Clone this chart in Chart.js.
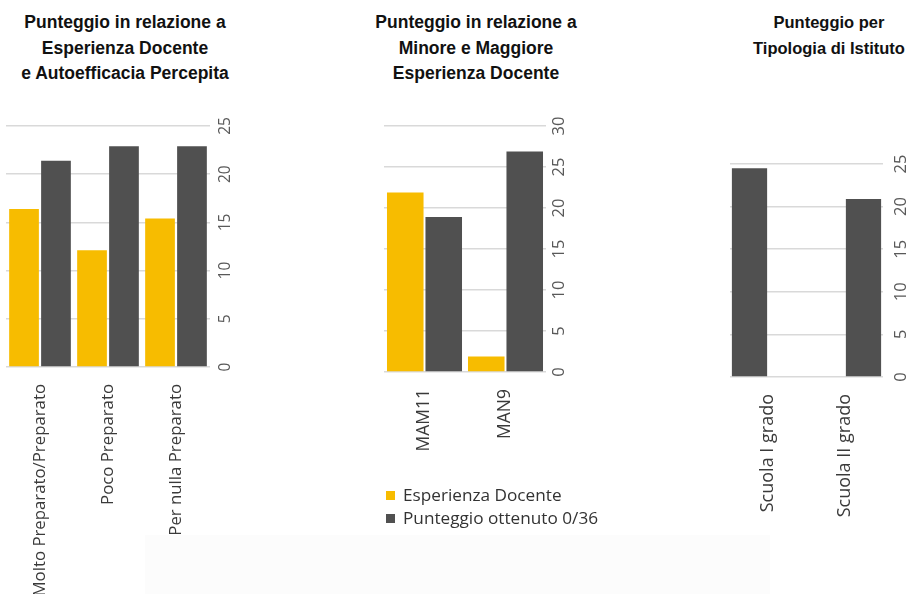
<!DOCTYPE html>
<html>
<head>
<meta charset="utf-8">
<script src="https://cdn.jsdelivr.net/npm/chart.js@4.4.0/dist/chart.umd.min.js"></script>
<style>
  body { margin: 0; background: #fff; width: 909px; height: 594px; overflow: hidden; position: relative; }
  .title { position: absolute; font-family: "Liberation Sans", Arial, sans-serif; font-weight: bold; font-size: 17.5px; line-height: 25.5px; color: #111; text-align: center; white-space: nowrap; }
  .box { position: absolute; }
  .shade { position: absolute; left: 145px; top: 535px; width: 625px; height: 59px; background: #fcfcfc; }
  #legend { position: absolute; left: 386px; top: 483px; font-family: "Open Sans", sans-serif; font-size: 17.2px; color: #333; line-height: 23px; }
  #legend span.sw { display: inline-block; width: 9px; height: 9px; margin-right: 8px; vertical-align: 1px; }
</style>
</head>
<body>
<div class="shade"></div>

<div class="title" style="left:5px;width:240px;top:10px">Punteggio in relazione a<br>Esperienza Docente<br>e Autoefficacia Percepita</div>
<div class="title" style="left:356px;width:240px;top:10px">Punteggio in relazione a<br>Minore e Maggiore<br>Esperienza Docente</div>
<div class="title" style="left:729px;width:200px;top:10px;font-size:16.5px">Punteggio per<br>Tipologia di Istituto</div>

<div class="box" style="left:0;top:110px;width:250px;height:484px"><canvas id="chart1"></canvas></div>
<div class="box" style="left:370px;top:110px;width:210px;height:484px"><canvas id="chart2"></canvas></div>
<div class="box" style="left:700px;top:110px;width:209px;height:484px"><canvas id="chart3"></canvas></div>
<div id="legend"></div>

<script>
const yellow = '#f7bc00';
const darkGray = '#505050';

// chart 1: Esperienza Docente e Autoefficacia Percepita
const prepLabels = ['Molto Preparato/Preparato', 'Poco Preparato', 'Per nulla Preparato'];
const prepEsperienza = [16.4, 12.1, 15.4];
const prepPunteggio = [21.4, 22.9, 22.9];

// chart 2: Minore e Maggiore Esperienza Docente
const espLabels = ['MAM11', 'MAN9'];
const espEsperienza = [21.9, 1.9];
const espPunteggio = [18.9, 26.9];

// chart 3: Tipologia di Istituto
const scuolaLabels = ['Scuola I grado', 'Scuola II grado'];
const scuolaPrimo = [24.5, 0];
const scuolaSecondo = [0, 20.9];

const seriesNames = ['Esperienza Docente', 'Punteggio ottenuto 0/36'];

const rotatedTicks = {
  id: 'rotatedTicks',
  afterDraw(chart, args, opts) {
    const y = chart.scales.y;
    const ctx = chart.ctx;
    ctx.save();
    ctx.font = opts.size + 'px "Open Sans", sans-serif';
    ctx.fillStyle = '#595959';
    ctx.textAlign = 'center';
    ctx.textBaseline = 'middle';
    y.ticks.forEach(t => {
      const py = y.getPixelForValue(t.value);
      ctx.save();
      ctx.translate(opts.x, py);
      ctx.rotate(-Math.PI / 2);
      ctx.fillText(t.label, 0, 0);
      ctx.restore();
    });
    ctx.restore();
  }
};

function makeChart(id, labels, datasets, cfg) {
  return new Chart(document.getElementById(id), {
    type: 'bar',
    data: { labels: labels, datasets: datasets },
    plugins: [rotatedTicks],
    options: {
      responsive: true,
      maintainAspectRatio: false,
      animation: false,
      layout: { padding: { left: cfg.left, top: cfg.top, right: 0, bottom: 0 } },
      datasets: { bar: { categoryPercentage: cfg.cat, barPercentage: cfg.bar } },
      plugins: {
        legend: { display: false },
        tooltip: { enabled: false },
        rotatedTicks: { x: cfg.tickX, size: cfg.tickSize }
      },
      scales: {
        x: {
          grid: { display: false },
          border: { display: false },
          ticks: {
            minRotation: 90, maxRotation: 90, padding: 9,
            color: '#3a3a3a',
            font: { family: '"Open Sans", sans-serif', size: cfg.labelSize }
          },
          afterFit(s) { s.height = cfg.xHeight; }
        },
        y: {
          position: 'right',
          min: 0, max: cfg.max,
          ticks: { stepSize: 5, display: false },
          grid: { color: '#d9d9d9', lineWidth: 1.5, drawTicks: false },
          border: { display: false },
          afterFit(s) { s.width = cfg.yWidth; }
        }
      }
    }
  });
}

makeChart('chart1', prepLabels, [
  { label: seriesNames[0], data: prepEsperienza, backgroundColor: yellow },
  { label: seriesNames[1], data: prepPunteggio, backgroundColor: darkGray }
], { left: 6, top: 16, max: 25, xHeight: 227, yWidth: 40, tickX: 226, tickSize: 15.5, labelSize: 16.8, cat: 0.94, bar: 0.93 });

const chart2 = makeChart('chart2', espLabels, [
  { label: seriesNames[0], data: espEsperienza, backgroundColor: yellow },
  { label: seriesNames[1], data: espPunteggio, backgroundColor: darkGray }
], { left: 14, top: 16, max: 30, xHeight: 222, yWidth: 34, tickX: 189, tickSize: 16.5, labelSize: 17.5, cat: 0.95, bar: 0.95 });

makeChart('chart3', scuolaLabels, [
  { label: scuolaLabels[0], data: scuolaPrimo, backgroundColor: darkGray },
  { label: scuolaLabels[1], data: scuolaSecondo, backgroundColor: darkGray }
], { left: 30, top: 54, max: 25, xHeight: 217, yWidth: 26, tickX: 201.5, tickSize: 16.5, labelSize: 18, cat: 0.98, bar: 0.94 });

// legend from chart 2 datasets
const legend = document.getElementById('legend');
chart2.data.datasets.forEach(ds => {
  const row = document.createElement('div');
  row.innerHTML = '<span class="sw" style="background:' + ds.backgroundColor + '"></span>' + ds.label;
  legend.appendChild(row);
});
</script>
</body>
</html>
